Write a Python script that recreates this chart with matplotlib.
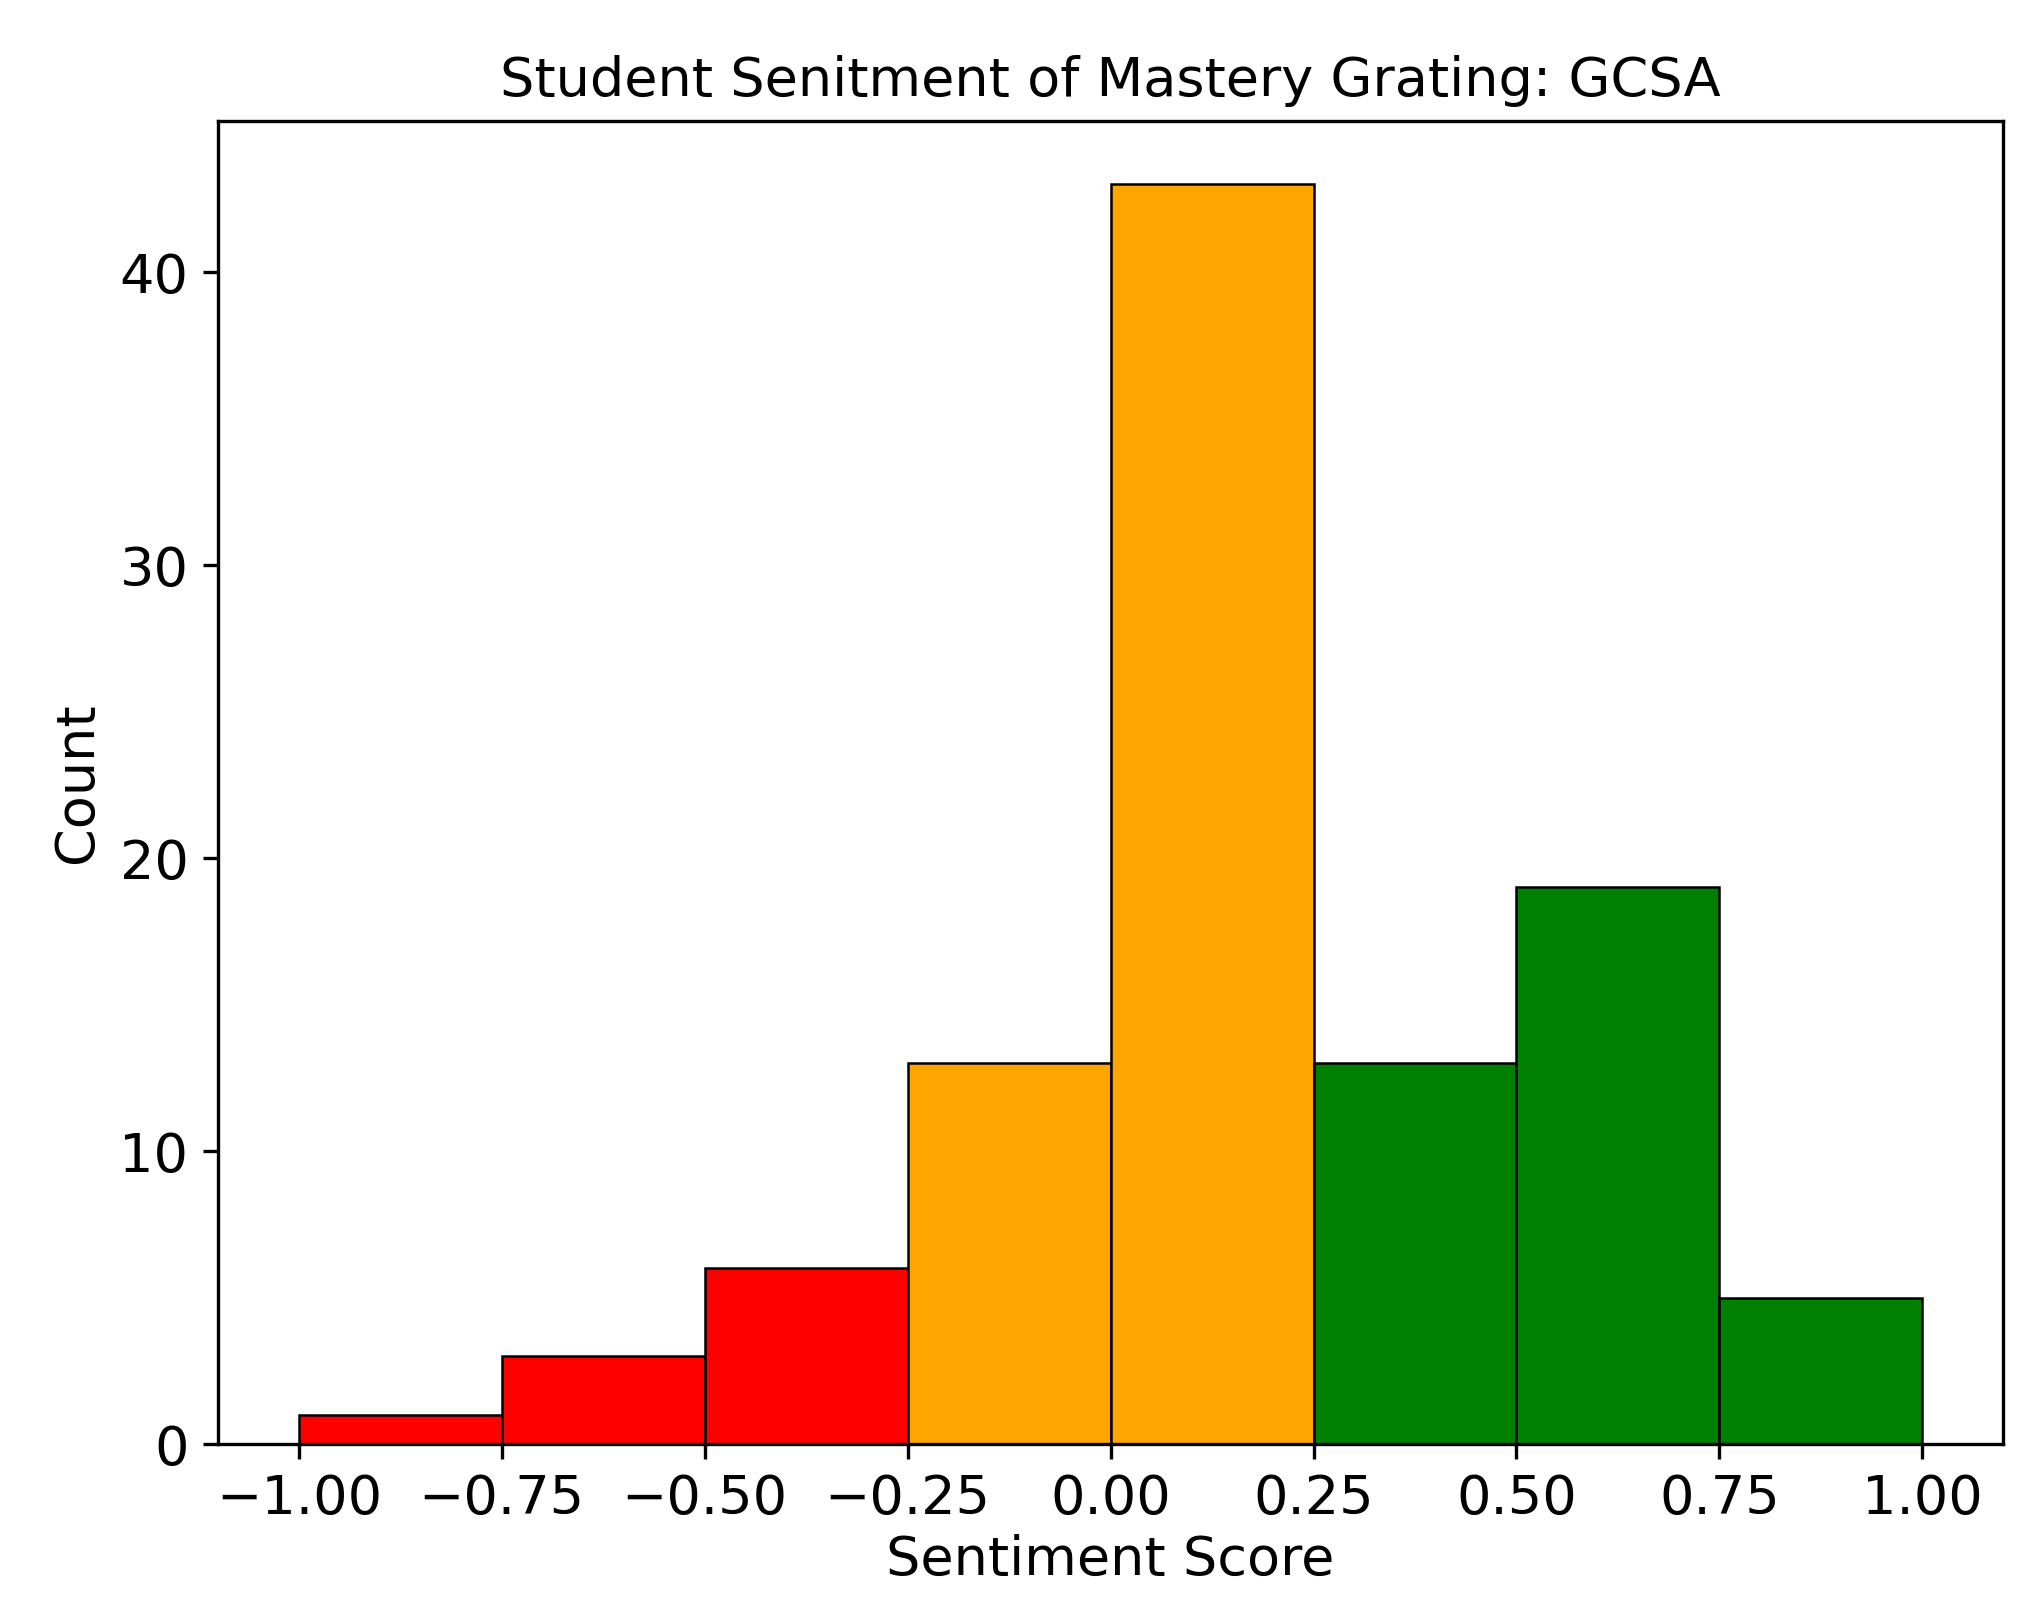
import matplotlib

matplotlib.use("Agg")
import matplotlib.pyplot as plt

bin_edges = [-1.0, -0.75, -0.5, -0.25, 0.0, 0.25, 0.5, 0.75, 1.0]
counts = [1, 3, 6, 13, 43, 13, 19, 5]
colors = ["red", "red", "red", "orange", "orange", "green", "green", "green"]
ticks = [-1.0, -0.75, -0.5, -0.25, 0.0, 0.25, 0.5, 0.75, 1.0]

fig = plt.figure(figsize=(6.78, 5.397), dpi=300)
ax = fig.add_axes([0.107, 0.108, 0.878, 0.817])
widths = [b - a for a, b in zip(bin_edges[:-1], bin_edges[1:])]
ax.bar(bin_edges[:-1], counts, width=widths, align="edge", color=colors,
       edgecolor="black", linewidth=0.6)
ax.set_xticks(ticks)
ax.set_xticklabels([f"{t:.2f}".replace("-", "\u2212") for t in ticks])
ax.tick_params(labelsize=13)
ax.set_xlabel("Sentiment Score", fontsize=13, labelpad=2)
ax.set_ylabel("Count", fontsize=13)
ax.set_title("Student Senitment of Mastery Grating: GCSA", fontsize=13)
fig.savefig("out.png", dpi=300)
